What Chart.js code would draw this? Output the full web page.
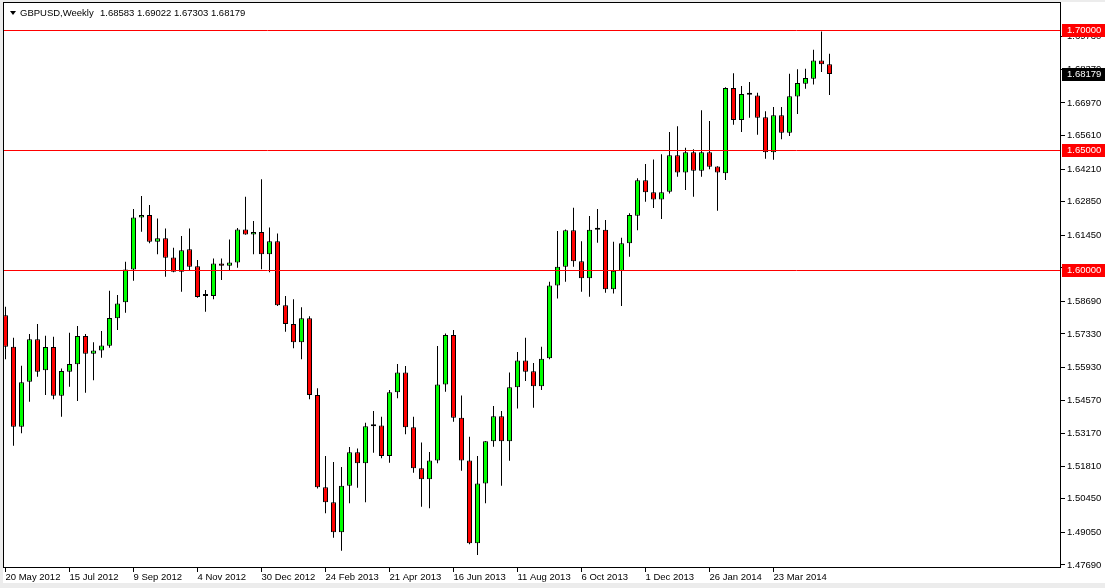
<!DOCTYPE html>
<html>
<head>
<meta charset="utf-8">
<title>GBPUSD,Weekly</title>
<script src="https://cdn.jsdelivr.net/npm/chart.js@4.4.0/dist/chart.umd.min.js"></script>
<style>
    html, body { margin: 0; padding: 0; background: #ffffff; }
</style>
</head>
<body>
<canvas id="gbpChart" width="1105" height="588"></canvas>
<script>
let symbolName = "GBPUSD,Weekly";

// weekly bars, 20 May 2012 .. 11 May 2014
let tickLabels = ["20 May 2012", "15 Jul 2012", "9 Sep 2012", "4 Nov 2012", "30 Dec 2012", "24 Feb 2013",
    "21 Apr 2013", "16 Jun 2013", "11 Aug 2013", "6 Oct 2013", "1 Dec 2013", "26 Jan 2014", "23 Mar 2014"];
let tickBars = [0, 8, 16, 24, 32, 40, 48, 56, 64, 72, 80, 88, 96];

let openPrices = [
    1.5811, 1.5679, 1.5345, 1.5533, 1.5711, 1.5581, 1.5678, 1.5475, 1.5575, 1.5606,
    1.5724, 1.5650, 1.5664, 1.5683, 1.5798, 1.5865, 1.6002, 1.6219, 1.6229, 1.6117,
    1.6132, 1.6052, 1.5992, 1.6086, 1.6015, 1.5893, 1.5891, 1.6027, 1.6017, 1.6031,
    1.6169, 1.6148, 1.6158, 1.6065, 1.6120, 1.5852, 1.5774, 1.5698, 1.5798, 1.5478,
    1.5093, 1.5030, 1.4905, 1.5099, 1.5239, 1.5193, 1.5348, 1.5351, 1.5223, 1.5489,
    1.5572, 1.5343, 1.5172, 1.5126, 1.5205, 1.5522, 1.5728, 1.5383, 1.5205, 1.4859,
    1.5109, 1.5285, 1.5389, 1.5285, 1.5510, 1.5622, 1.5577, 1.5514, 1.5631, 1.5935,
    1.6013, 1.6165, 1.6036, 1.5965, 1.6168, 1.6168, 1.5919, 1.5996, 1.6111, 1.6226,
    1.6374, 1.6324, 1.6294, 1.6326, 1.6478, 1.6407, 1.6491, 1.6414, 1.6491, 1.6432,
    1.6403, 1.6759, 1.6626, 1.6733, 1.6728, 1.6637, 1.6491, 1.6645, 1.6572, 1.6724,
    1.6777, 1.6798, 1.6874, 1.68583
];
let highPrices = [
    1.5846, 1.5717, 1.5600, 1.5732, 1.5774, 1.5725, 1.5721, 1.5589, 1.5738, 1.5766,
    1.5732, 1.5698, 1.5745, 1.5913, 1.5895, 1.6034, 1.6254, 1.6308, 1.6271, 1.6215,
    1.6173, 1.6092, 1.6141, 1.6173, 1.6041, 1.5916, 1.6048, 1.6048, 1.6127, 1.6175,
    1.6305, 1.6204, 1.6378, 1.6177, 1.6152, 1.5891, 1.5878, 1.5844, 1.5807, 1.5506,
    1.5223, 1.5198, 1.5177, 1.5261, 1.5255, 1.5362, 1.5411, 1.5387, 1.5499, 1.5607,
    1.5599, 1.5387, 1.5280, 1.5240, 1.5682, 1.5735, 1.5749, 1.5476, 1.5304, 1.5223,
    1.5286, 1.5432, 1.5411, 1.5572, 1.5657, 1.5717, 1.5612, 1.5679, 1.5951, 1.6162,
    1.6169, 1.6259, 1.6120, 1.6225, 1.6254, 1.6208, 1.6117, 1.6134, 1.6236, 1.6382,
    1.6442, 1.6461, 1.6483, 1.6575, 1.6600, 1.6510, 1.6503, 1.6666, 1.6621, 1.6433,
    1.6762, 1.6821, 1.6767, 1.6784, 1.6739, 1.6662, 1.6680, 1.6680, 1.6819, 1.6837,
    1.6839, 1.6919, 1.6995, 1.69022
];
let lowPrices = [
    1.5627, 1.5266, 1.5318, 1.5450, 1.5554, 1.5478, 1.5460, 1.5387, 1.5512, 1.5453,
    1.5487, 1.5540, 1.5633, 1.5675, 1.5749, 1.5821, 1.5955, 1.6159, 1.6111, 1.6065,
    1.5971, 1.5990, 1.5909, 1.5999, 1.5884, 1.5825, 1.5878, 1.5958, 1.5996, 1.6009,
    1.6147, 1.6065, 1.6003, 1.5990, 1.5849, 1.5742, 1.5673, 1.5627, 1.5460, 1.5088,
    1.4984, 1.4882, 1.4828, 1.5026, 1.5091, 1.5030, 1.5237, 1.5214, 1.5195, 1.5464,
    1.5314, 1.5153, 1.5012, 1.5005, 1.5193, 1.5491, 1.5366, 1.5162, 1.4855, 1.4810,
    1.5026, 1.5262, 1.5099, 1.5204, 1.5422, 1.5536, 1.5425, 1.5499, 1.5627, 1.5881,
    1.5951, 1.6013, 1.5909, 1.5888, 1.6113, 1.5905, 1.5902, 1.5849, 1.6055, 1.6166,
    1.6284, 1.6258, 1.6212, 1.6319, 1.6389, 1.6333, 1.6305, 1.6389, 1.6420, 1.6247,
    1.6375, 1.6606, 1.6575, 1.6635, 1.6564, 1.6464, 1.6460, 1.6545, 1.6559, 1.6651,
    1.6756, 1.6774, 1.6826, 1.67303
];
let closePrices = [
    1.5679, 1.5345, 1.5531, 1.5711, 1.5575, 1.5678, 1.5475, 1.5578, 1.5607, 1.5724,
    1.5650, 1.5664, 1.5685, 1.5799, 1.5860, 1.6002, 1.6219, 1.6229, 1.6117, 1.6132,
    1.6051, 1.5992, 1.6082, 1.6013, 1.5887, 1.5891, 1.6027, 1.6017, 1.6031, 1.6169,
    1.6148, 1.6158, 1.6065, 1.6120, 1.5852, 1.5774, 1.5698, 1.5798, 1.5478, 1.5093,
    1.5030, 1.4905, 1.5099, 1.5239, 1.5193, 1.5348, 1.5350, 1.5223, 1.5489, 1.5572,
    1.5343, 1.5172, 1.5126, 1.5205, 1.5522, 1.5728, 1.5383, 1.5205, 1.4859, 1.5109,
    1.5285, 1.5389, 1.5285, 1.5510, 1.5622, 1.5575, 1.5514, 1.5629, 1.5935, 1.6013,
    1.6165, 1.6036, 1.5965, 1.6168, 1.6169, 1.5919, 1.5996, 1.6111, 1.6229, 1.6374,
    1.6324, 1.6294, 1.6324, 1.6478, 1.6407, 1.6491, 1.6414, 1.6491, 1.6430, 1.6407,
    1.6759, 1.6626, 1.6734, 1.6731, 1.6635, 1.6491, 1.6645, 1.6572, 1.6725, 1.6780,
    1.6801, 1.6874, 1.6858, 1.68179
];

let levelLines = [1.70, 1.65, 1.60];
let priceTicks = [1.69730, 1.68370, 1.66970, 1.65610, 1.64210, 1.62850, 1.61450, 1.60090, 1.58690,
    1.57330, 1.55930, 1.54570, 1.53170, 1.51810, 1.50450, 1.49050, 1.47690];

let fontName = "'Liberation Sans', Arial, sans-serif";
Chart.defaults.font.family = fontName;
Chart.defaults.font.size = 9.5;
Chart.defaults.color = "#000000";

let bodyData = [];
let wickData = [];
let bodyColors = [];
for (let i = 0; i < openPrices.length; i++) {
    bodyData.push({x: i, y: [openPrices[i], closePrices[i]]});
    wickData.push({x: i, y: [lowPrices[i], highPrices[i]]});
    bodyColors.push(closePrices[i] >= openPrices[i] ? "#00ff00" : "#ff0000");
}

function priceBox(ctx, area, py, text, color) {
    ctx.fillStyle = color;
    ctx.fillRect(area.right + 1, Math.round(py) - 6, 43, 13);
    ctx.fillStyle = "#ffffff";
    ctx.textBaseline = "middle";
    ctx.textAlign = "left";
    ctx.fillText(text, area.right + 6, Math.round(py) + 0.5);
}

let mt4Overlay = {
    id: 'mt4Overlay',
    beforeDraw(chart) {
        // window border strip + white chart window
        let ctx = chart.ctx;
        ctx.save();
        ctx.fillStyle = "#ececec";
        ctx.fillRect(0, 0, chart.width, chart.height);
        ctx.fillStyle = "#ffffff";
        ctx.fillRect(3, 2, chart.width - 3, 581);
        ctx.restore();
    },
    afterDatasetsDraw(chart) {
        let ctx = chart.ctx;
        let area = chart.chartArea;
        let yScale = chart.scales.y;
        ctx.save();
        ctx.strokeStyle = "#ff0000";
        ctx.lineWidth = 1;
        levelLines.forEach(function (v) {
            let py = Math.round(yScale.getPixelForValue(v)) + 0.5;
            ctx.beginPath();
            ctx.moveTo(area.left, py);
            ctx.lineTo(area.right, py);
            ctx.stroke();
        });
        ctx.restore();
    },
    afterDraw(chart) {
        let ctx = chart.ctx;
        let area = chart.chartArea;
        let yScale = chart.scales.y;
        ctx.save();
        // frame
        ctx.strokeStyle = "#000000";
        ctx.lineWidth = 1;
        ctx.strokeRect(area.left + 0.5, area.top + 0.5, area.right - area.left - 1, area.bottom - area.top - 1);

        // header
        ctx.fillStyle = "#000000";
        ctx.beginPath();
        ctx.moveTo(area.left + 7, area.top + 9);
        ctx.lineTo(area.left + 13, area.top + 9);
        ctx.lineTo(area.left + 10, area.top + 13);
        ctx.closePath();
        ctx.fill();
        ctx.font = "9.5px " + fontName;
        ctx.textBaseline = "middle";
        ctx.textAlign = "left";
        let last = openPrices.length - 1;
        ctx.fillText(symbolName, area.left + 17, area.top + 11);
        ctx.fillText([openPrices[last], highPrices[last], lowPrices[last], closePrices[last]]
            .map(v => v.toFixed(5)).join(" "), area.left + 97, area.top + 11);

        // price labels on the scale
        levelLines.forEach(function (v) {
            priceBox(ctx, area, yScale.getPixelForValue(v), v.toFixed(5), "#ff0000");
        });
        priceBox(ctx, area, yScale.getPixelForValue(closePrices[last]), closePrices[last].toFixed(5), "#000000");
        ctx.restore();
    }
};

let ctx = document.getElementById('gbpChart');
let gbpChart = new Chart(ctx, {
    type: 'bar',
    data: {
        datasets: [{
            label: 'wick',
            data: wickData,
            backgroundColor: "#000000",
            borderWidth: 0,
            barThickness: 1,
            grouped: false,
            inflateAmount: 0,
            order: 2
        }, {
            label: 'body',
            data: bodyData,
            backgroundColor: bodyColors,
            borderColor: "#000000",
            borderWidth: 1,
            borderSkipped: false,
            barThickness: 5,
            minBarLength: 2,
            grouped: false,
            inflateAmount: 0,
            order: 1
        }]
    },
    options: {
        responsive: false,
        animation: false,
        devicePixelRatio: 1,
        layout: {
            padding: {left: 3, top: 2, right: 0, bottom: 0}
        },
        plugins: {
            legend: {display: false},
            tooltip: {enabled: false}
        },
        scales: {
            x: {
                type: 'linear',
                offset: false,
                min: -0.3125,
                max: 131.9375,
                afterBuildTicks: function (scale) {
                    scale.ticks = tickBars.map(v => ({value: v}));
                },
                afterFit: function (scale) {
                    scale.height = 20;
                    scale.paddingLeft = 0;
                    scale.paddingRight = 0;
                },
                ticks: {
                    autoSkip: false,
                    maxRotation: 0,
                    align: 'start',
                    padding: 0,
                    callback: function (value) {
                        return tickLabels[tickBars.indexOf(value)];
                    }
                },
                grid: {
                    offset: false,
                    drawOnChartArea: false,
                    tickLength: 4,
                    tickColor: "#000000"
                },
                border: {display: false}
            },
            y: {
                position: 'right',
                min: 1.4756,
                max: 1.7118,
                afterBuildTicks: function (scale) {
                    scale.ticks = priceTicks.map(v => ({value: v}));
                },
                afterFit: function (scale) {
                    scale.width = 44;
                    scale.paddingTop = 0;
                    scale.paddingBottom = 0;
                },
                ticks: {
                    padding: 2,
                    callback: function (value) {
                        return value.toFixed(5);
                    }
                },
                grid: {
                    drawOnChartArea: false,
                    tickLength: 4,
                    tickColor: "#000000"
                },
                border: {display: false}
            }
        }
    },
    plugins: [mt4Overlay]
});
</script>
</body>
</html>
